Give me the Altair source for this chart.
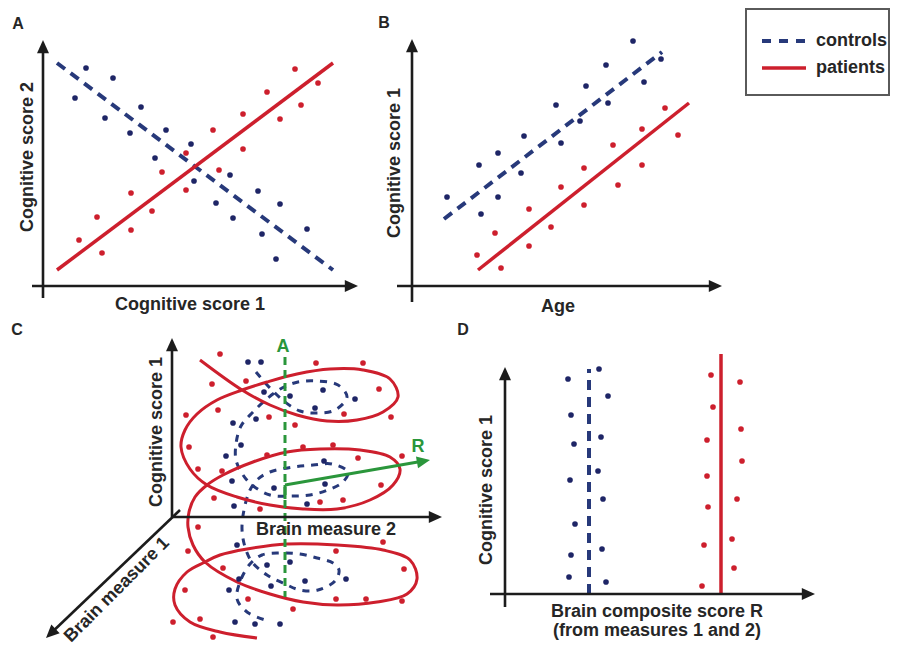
import altair as alt
import pandas as pd

NAVY = "#1e2566"
RED = "#cd1f2d"
GREEN = "#2a963b"
INK = "#1c1c1c"
TXT = "#262626"
FONT = "Liberation Sans"
HEAD = "M0,0L-1,2.2L1,2.2Z"

# ---------------- Panel A: cognitive score 1 vs cognitive score 2 ----------------
a_ctrl_x = [4.3, 3.2, 7.0, 6.2, 9.8, 8.7, 12.3, 14.8, 11.2, 15.1, 18.7, 17.3, 21.5, 23.7, 19.0, 21.9, 26.4, 23.3]
a_ctrl_y = [21.8, 18.8, 20.8, 16.8, 17.9, 15.3, 15.6, 14.2, 12.8, 10.5, 11.1, 8.3, 9.5, 8.2, 6.8, 5.2, 5.7, 2.7]
a_pat_x = [3.6, 5.4, 5.9, 8.8, 8.8, 10.9, 11.9, 14.3, 14.3, 17.0, 17.6, 20.0, 20.0, 22.4, 23.7, 25.2, 25.8, 27.5]
a_pat_y = [4.6, 6.9, 3.3, 9.3, 5.6, 7.5, 11.4, 13.3, 9.6, 15.6, 11.6, 17.2, 13.7, 19.4, 16.7, 21.7, 18.1, 20.3]
a_ctrl_fit_x = [1.4, 29.0]
a_ctrl_fit_y = [22.3, 1.6]
a_pat_fit_x = [1.4, 29.0]
a_pat_fit_y = [1.6, 22.3]

# ---------------- Panel B: age vs cognitive score 1 ----------------
b_ctrl_x = [3.5, 6.9, 6.7, 8.6, 8.6, 10.9, 11.2, 14.9, 14.4, 16.8, 17.4, 19.6, 19.4, 23.2, 22.1, 24.9]
b_ctrl_y = [8.9, 7.2, 12.1, 8.9, 13.3, 11.3, 15.0, 14.3, 18.1, 16.5, 20.0, 18.3, 22.1, 20.4, 24.5, 22.7]
b_pat_x = [6.5, 8.9, 8.3, 11.7, 11.7, 13.9, 14.9, 17.2, 17.2, 20.1, 20.6, 23.0, 23.0, 25.3, 26.6]
b_pat_y = [3.1, 1.8, 5.3, 4.0, 7.7, 5.9, 9.9, 8.1, 11.8, 14.1, 10.1, 12.1, 15.7, 17.8, 15.1]
b_ctrl_fit_x = [3.2, 25.0]
b_ctrl_fit_y = [6.7, 23.4]
b_pat_fit_x = [6.6, 27.7]
b_pat_fit_y = [1.6, 18.3]

# ---------------- Panel C: brain measures 1 & 2 vs cognitive score 1 ----------------
c_pat_x = [4.8, 4.0, 7.4, 1.4, 4.6, 9.7, 12.3, 14.4, 19.1, 20.7, 17.2, 21.9, 1.7, 2.6, 5.0, 4.2,
           2.6, 1.6, 1.3, 0.1, 2.8, 4.1, 9.5, 13.1, 16.1, 18.6, 23.0, 20.9, 17.1, 14.8, 8.8, 5.1,
           16.4, 21.1, 23.2, 23.0, 19.4, 16.4, 12.1, 7.6]
c_pat_y = [16.3, 13.3, 13.6, 10.2, 10.7, 10.0, 9.2, 15.4, 15.4, 12.8, 10.3, 10.0, 7.0, 4.8, 4.6, 1.9,
           -1.0, -3.4, -7.3, -10.5, -10.2, -12.0, 6.2, 7.0, 7.2, 5.9, 6.1, 3.2, 1.7, 1.5, 0.8, -5.1,
           -3.4, -2.5, -5.2, -8.4, -8.2, -8.2, -9.2, -8.2]
c_ctrl_x = [7.6, 8.9, 9.2, 11.8, 15.1, 18.3, 14.3, 8.4, 6.1, 6.9, 5.4, 6.0, 10.2, 15.2, 15.3, 13.5,
            6.2, 6.5, 9.5, 11.8, 13.3, 17.4, 9.9, 5.7, 6.7, 6.3, 8.3, 10.8]
c_ctrl_y = [15.5, 15.5, 12.5, 12.1, 12.7, 11.8, 10.9, 9.8, 9.4, 7.2, 6.1, 3.6, 2.9, 5.6, 3.3, 1.3,
            1.1, -2.8, -4.8, -4.5, -6.4, -6.2, -6.9, -7.3, -6.2, -10.5, -10.7, -10.7]
# red (patients) helix
c_pat_helix_x = [2.8, 7.0, 9.8, 12.5, 15.5, 18.5, 21.1, 22.6, 21.8, 19.1, 15.8, 12.5, 9.5, 7.0, 4.5,
                 2.5, 1.3, 0.9, 1.8, 3.5, 6.5, 9.8, 13.1, 16.5, 19.8, 22.1, 22.8, 21.8, 18.8, 14.8,
                 11.5, 8.1, 5.1, 3.5, 2.3, 1.7, 1.6, 2.1, 3.3, 6.5, 9.8, 13.1, 16.5, 20.5, 23.5,
                 24.5, 23.8, 21.1, 16.5, 11.5, 7.5, 4.8, 3.3, 1.5, 0.3, 0.3, 1.8, 4.8, 8.5]
c_pat_helix_y = [15.7, 12.7, 11.2, 10.2, 9.6, 9.7, 10.5, 12.0, 13.8, 14.7, 14.8, 14.3, 13.5, 12.7, 11.7,
                 10.3, 8.7, 7.0, 4.8, 3.2, 2.0, 1.2, 0.8, 0.8, 1.7, 3.2, 4.8, 6.0, 6.7, 6.8,
                 6.5, 5.5, 4.2, 3.2, 2.0, 0.5, -1.0, -2.8, -4.5, -6.5, -7.7, -8.5, -8.8, -8.5, -7.7,
                 -6.2, -4.3, -3.3, -2.8, -2.7, -3.2, -3.8, -4.5, -5.5, -7.2, -8.8, -10.5, -11.5, -12.1]
# blue (controls) helix
c_ctrl_helix_x = [8.4, 9.8, 11.3, 12.8, 14.5, 16.3, 17.5, 16.6, 14.5, 12.6, 11.0, 9.6, 8.1, 6.9, 6.4,
                  6.4, 7.1, 8.0, 9.8, 12.0, 13.8, 15.6, 17.1, 17.6, 16.0, 14.1, 12.1, 9.8, 8.6, 7.8,
                  7.2, 7.0, 7.3, 8.0, 9.5, 11.3, 12.8, 14.6, 16.3, 16.7, 16.1, 14.5, 12.8, 10.8, 9.0,
                  7.8, 6.8, 6.5, 7.5, 9.3]
c_ctrl_helix_y = [14.5, 12.9, 11.5, 10.6, 10.4, 10.7, 12.0, 13.2, 13.6, 13.5, 12.9, 11.9, 10.5, 9.1, 7.3,
                  5.7, 4.2, 3.2, 2.2, 2.1, 2.2, 2.7, 3.5, 4.5, 5.3, 5.2, 5.0, 4.5, 3.8, 2.7,
                  0.7, -1.2, -3.0, -4.5, -5.8, -6.7, -7.3, -7.3, -6.4, -5.3, -4.6, -4.1, -3.7, -3.6, -3.8,
                  -4.7, -6.5, -8.2, -9.5, -10.3]
c_axis_a_x = [11.3, 11.3]
c_axis_a_y = [16.0, -8.0]
c_vec_r_x = [11.3, 25.8]
c_vec_r_y = [3.2, 5.7]

# ---------------- Panel D: composite score R vs cognitive score 1 ----------------
d_ctrl_x = [6.3, 9.4, 10.3, 6.6, 6.9, 9.6, 9.3, 6.5, 9.8, 7.0, 9.7, 6.6, 6.4, 10.1]
d_ctrl_y = [21.5, 22.5, 19.8, 17.9, 15.0, 15.7, 12.3, 11.4, 9.5, 7.0, 4.5, 3.9, 1.7, 1.2]
d_pat_x = [20.6, 23.5, 20.8, 23.6, 20.2, 23.7, 20.2, 23.2, 20.3, 22.7, 19.9, 22.9, 19.7]
d_pat_y = [21.9, 21.2, 18.7, 16.5, 15.4, 13.3, 11.8, 9.5, 8.7, 5.5, 4.9, 2.6, 0.8]
d_ctrl_fit_x = [8.4, 8.4]
d_ctrl_fit_y = [0.0, 22.5]
d_pat_fit_x = [21.6, 21.6]
d_pat_fit_y = [0.0, 24.0]

legend_labels = ["controls", "patients"]


# ---------------- helpers ----------------
def sc(dom):
    return alt.Scale(domain=dom, nice=False, zero=False)


class Panel:
    def __init__(self, dx, dy, w, h):
        self.dx, self.dy, self.w, self.h = dx, dy, w, h
        self.layers = []

    def xy(self):
        return dict(x=alt.X("x:Q", scale=sc(self.dx), axis=None),
                    y=alt.Y("y:Q", scale=sc(self.dy), axis=None))

    def dots(self, xs, ys, color, size=32):
        df = pd.DataFrame({"x": xs, "y": ys})
        self.layers.append(alt.Chart(df).mark_circle(size=size, color=color, opacity=1)
                           .encode(**self.xy()))

    def line(self, xs, ys, color, width, dash=None, interp="linear"):
        df = pd.DataFrame({"x": xs, "y": ys, "i": list(range(len(xs)))})
        kw = dict(color=color, strokeWidth=width, interpolate=interp,
                  strokeCap="butt", strokeJoin="round")
        if dash:
            kw["strokeDash"] = dash
        self.layers.append(alt.Chart(df).mark_line(**kw).encode(**self.xy(), order="i:Q"))

    def arrow(self, x0, y0, x1, y1, angle, color=INK, width=2.6, size=144, back=0.5):
        ddx, ddy = x1 - x0, y1 - y0
        n = (ddx * ddx + ddy * ddy) ** 0.5
        ex, ey = x1 - ddx / n * back, y1 - ddy / n * back
        self.line([x0, ex], [y0, ey], color, width)
        df = pd.DataFrame({"x": [x1], "y": [y1]})
        self.layers.append(alt.Chart(df).mark_point(shape=HEAD, filled=True, size=size,
                                                    angle=angle, color=color, opacity=1)
                           .encode(**self.xy()))

    def text(self, t, x, y, size=18, angle=0, color=TXT, align="center"):
        df = pd.DataFrame({"x": [x], "y": [y], "t": [t]})
        self.layers.append(alt.Chart(df).mark_text(font=FONT, fontWeight="bold", fontSize=size,
                                                   angle=angle, color=color, align=align,
                                                   baseline="middle")
                           .encode(**self.xy(), text="t:N"))

    def chart(self):
        return alt.layer(*self.layers).properties(width=self.w, height=self.h)


DASH = [10, 7]

# ---------------- Panel A ----------------
A = Panel([-3.5, 33.2], [-2.8, 27.8], 367, 306)
A.line(a_ctrl_fit_x, a_ctrl_fit_y, "#27397a", 4, dash=DASH)
A.line(a_pat_fit_x, a_pat_fit_y, RED, 3.5)
A.dots(a_ctrl_x, a_ctrl_y, NAVY)
A.dots(a_pat_x, a_pat_y, RED)
A.arrow(0, -1.2, 0, 24.6, 0)
A.arrow(-1.1, 0, 31.5, 0, 90)
A.text("A", -2.5, 26.2, size=16)
A.text("Cognitive score 2", -1.5, 12.9, angle=270)
A.text("Cognitive score 1", 14.7, -1.9)

# ---------------- Panel B ----------------
B = Panel([-3.7, 32.8], [-2.8, 27.8], 365, 306)
B.line(b_ctrl_fit_x, b_ctrl_fit_y, "#27397a", 4, dash=DASH)
B.line(b_pat_fit_x, b_pat_fit_y, RED, 3.5)
B.dots(b_ctrl_x, b_ctrl_y, NAVY)
B.dots(b_pat_x, b_pat_y, RED)
B.arrow(0, -1.6, 0, 24.7, 0)
B.arrow(-1.5, 0, 31.0, 0, 90)
B.text("B", -2.8, 26.3, size=16)
B.text("Cognitive score 1", -1.7, 12.3, angle=270)
B.text("Age", 14.6, -2.1)

# ---------------- Legend panel ----------------
L = Panel([0, 15.1], [0, 30.6], 151, 306)
box = pd.DataFrame({"x": [0.6], "x2": [14.9], "y": [21.9], "y2": [30.5]})
L.layers.append(alt.Chart(box).mark_rect(fill="white", stroke="#5a5a5a", strokeWidth=2)
                .encode(**L.xy(), x2="x2:Q", y2="y2:Q"))
L.line([2.2, 6.6], [27.3, 27.3], "#27397a", 4, dash=[9, 8])
L.line([2.2, 6.6], [24.6, 24.6], RED, 3.5)
L.text(legend_labels[0], 7.6, 27.3, align="left")
L.text(legend_labels[1], 7.6, 24.6, align="left")

# ---------------- Panel C ----------------
C = Panel([-16.4, 28.3], [-12.3, 20.1], 447, 324)
C.line(c_ctrl_helix_x, c_ctrl_helix_y, "#27397a", 3, dash=[7, 7], interp="catmull-rom")
C.line(c_pat_helix_x, c_pat_helix_y, RED, 3, interp="catmull-rom")
C.line(c_axis_a_x, c_axis_a_y, GREEN, 3, dash=[8, 5])
C.dots(c_ctrl_x, c_ctrl_y, NAVY)
C.dots(c_pat_x, c_pat_y, RED)
C.arrow(0, 0, 0, 17.9, 0)
C.arrow(0, 0, 27.0, 0, 90)
C.arrow(0.8, 0.7, -12.6, -12.1, 226)
C.arrow(c_vec_r_x[0], c_vec_r_y[0], c_vec_r_x[1], c_vec_r_y[1], 80, color=GREEN, width=3)
C.line([c_vec_r_x[0], c_vec_r_x[0]], [c_vec_r_y[0], c_vec_r_y[0] - 1.4], GREEN, 3)
C.text("C", -15.5, 18.7, size=16)
C.text("A", 11.1, 17.0, color=GREEN)
C.text("R", 24.6, 7.0, color=GREEN)
C.text("Cognitive score 1", -1.5, 8.5, angle=270)
C.text("Brain measure 2", 15.4, -1.3)
C.text("Brain measure 1", -5.5, -7.3, angle=315)

# ---------------- Panel D ----------------
D = Panel([-5.0, 38.6], [-4.6, 27.8], 436, 324)
D.line(d_ctrl_fit_x, d_ctrl_fit_y, "#27397a", 4, dash=DASH)
D.line(d_pat_fit_x, d_pat_fit_y, RED, 3.5)
D.dots(d_ctrl_x, d_ctrl_y, NAVY)
D.dots(d_pat_x, d_pat_y, RED)
D.arrow(0, -1.3, 0, 22.7, 0)
D.arrow(-1.5, 0, 31.0, 0, 90)
D.text("D", -4.2, 26.4, size=16)
D.text("Cognitive score 1", -1.8, 10.4, angle=270)
D.text("Brain composite score R", 15.2, -1.8)
D.text("(from measures 1 and 2)", 15.2, -3.7)

row1 = alt.hconcat(A.chart(), B.chart(), L.chart(), spacing=0)
row2 = alt.hconcat(C.chart(), D.chart(), spacing=0)
chart = (alt.vconcat(row1, row2, spacing=0)
         .properties(padding=0)
         .configure_view(stroke=None))

chart.save("out.html", embed_options={"renderer": "svg", "actions": False})
